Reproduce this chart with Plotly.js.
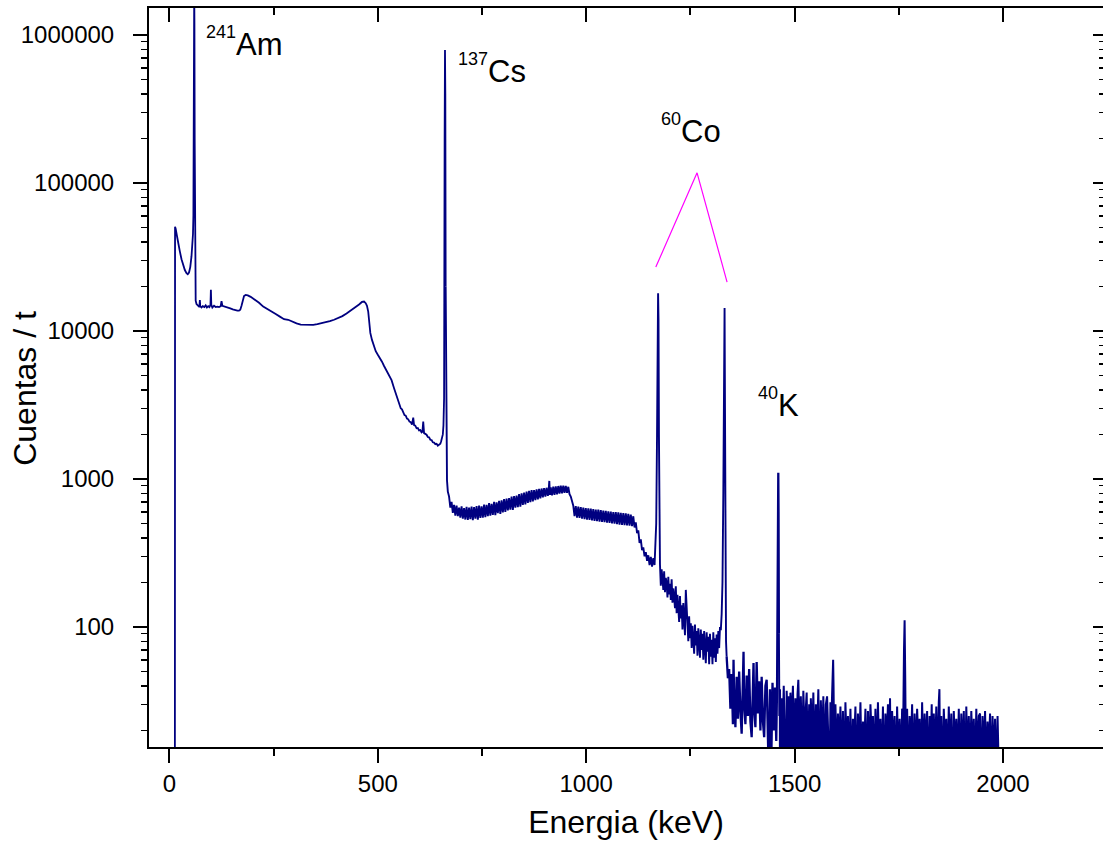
<!DOCTYPE html>
<html>
<head>
<meta charset="utf-8">
<script src="https://cdn.plot.ly/plotly-3.0.1.min.js"></script>
<style>
html,body{margin:0;padding:0;background:#fff;overflow:hidden;}
#chart{width:1103px;height:844px;}
</style>
</head>
<body>
<div id="chart"></div>
<script>
// ---- Spectrum data (energy in keV, counts) ----
const lowE = [13,13.5,15,18,21,25,29,33,37,41,44,47,50,53,55,56.5,57.5,58.3,59,59.5,60,60.6,61.2,62,63,65,68,71,72,73,74,77,80,84,87,90,93,96,98.5,99.5,100.5,103,107,111,115,119,123,125,127,131,135,140,146,152,158,163,167,170,173,176,179,183,188,195,205,215,225,235,245,255,265,275,285,295,305,315,325,335,345,355,365,375,385,395,405,415,425,435,445,455,462,467,471,474,477];
const lowC = [1,50500,49000,44000,39000,34500,30500,27500,25800,24600,24200,24800,27000,32000,38000,45000,60000,150000,900000,2000000,1200000,200000,40000,19000,16000,15200,14800,14600,14600,16200,14700,14400,14700,14500,14900,14400,14700,14500,15000,19000,15000,14400,14800,14500,14600,14500,14700,15900,14800,14700,14600,14400,14200,14000,13800,13700,13700,13900,14800,16300,17200,17500,17400,17000,16300,15500,14600,14100,13600,13000,12500,12000,11900,11500,11250,11050,11000,10950,11000,11100,11250,11450,11650,11900,12200,12600,13100,13700,14400,15100,15700,15800,15400,14800,13500];

const compE = [479,482,486,490,495,500,505,510,515,521,527,533,539,545,550,555,558,561,564,567,570,573,576,579,582,585,587,590,593,596,599,602,605,607,609,611,614,617,620,623,626,629,632,635,638,641,644,647,650,652,654,656,657.5,659,660.3,661.2,662,662.8];
const compC = [11500,9700,8700,8000,7300,6900,6600,6200,5800,5400,5000,4650,4100,3600,3250,3000,2950,2780,2700,2680,2560,2530,2440,2420,2330,2600,2310,2290,2200,2210,2130,2140,2060,2080,2440,2040,2010,1990,1920,1910,1840,1830,1770,1760,1720,1730,1680,1700,1730,1800,1880,2000,2300,3500,200000,790000,400000,20000];

const midE = [664,666,668,671,674,677,680,683,686,689,692,695,698,701,704,707,710,713,716,719,722,725,728,731,734,737,740,743,746,749,752,755,758,761,764,767,770,773,776,779,782,785,788,791,794,797,800,803,806,809,812,815,818,821,824,827,830,833,836,839,842,845,848,851,854,857,860,863,866,869,872,875,878,881,884,887,890,893,896,899,902,905,908,910,911.5,913,915,918,921,924,927,930,933,936,939,942,945,948,951,954,957,960,963,966,969,972,975,978,981,984,987,990,993,996,999,1002,1005,1008,1011,1014,1017,1020,1023,1026,1029,1032,1035,1038,1041,1044,1047,1050,1053,1056,1059,1062,1065,1068,1071,1074,1077,1080,1083,1086,1089,1092,1095,1098,1101,1104,1107,1110,1113,1116,1119,1122,1125,1128,1131,1134,1137,1140,1143,1146,1149,1152,1155,1158,1161,1164,1166,1168,1170,1171.5,1172.5,1173.5,1174.5,1175.5];
const midC = [1600,980,820,760,640,700,590,668,566,660,560,640,548,652,540,636,532,648,528,640,536,650,526,646,540,655,530,660,545,652,548,672,552,668,560,686,565,680,572,700,570,695,588,712,580,718,595,730,600,738,612,742,620,760,618,765,640,772,645,790,650,800,668,808,672,822,690,830,698,840,705,842,720,852,728,858,740,862,752,866,760,872,770,840,970,780,876,775,888,782,890,788,896,795,900,800,902,805,898,806,885,790,760,690,660,560,655,548,650,545,646,540,640,535,636,530,632,528,630,525,626,520,622,518,620,515,616,512,612,510,610,506,605,504,602,500,598,498,596,495,594,492,590,490,588,488,585,486,582,484,575,480,560,470,510,430,450,370,390,330,345,300,320,280,305,262,298,256,292,262,330,500,2000,9000,18000,12000,2000,400];

const coE = [1177,1179,1181,1183,1185,1187,1189,1191,1193,1195,1197,1199,1201,1203,1205,1207,1209,1211,1213,1215,1217,1219,1221,1223,1225,1227,1229,1231,1233,1235,1237,1239,1241,1243,1245,1247,1249,1251,1253,1255,1257,1259,1261,1263,1265,1267,1269,1271,1273,1275,1277,1279,1281,1283,1285,1287,1289,1291,1293,1295,1297,1299,1301,1303,1305,1307,1309,1311,1313,1315,1317,1319,1321,1323,1325,1327,1329,1330,1331,1332,1333,1334,1335.5,1337];
const coC = [265,190,245,212,178,238,172,215,196,158,218,166,196,152,210,146,182,160,134,188,124,165,142,108,162,114,140,96,145,104,88,178,122,90,80,118,84,106,72,102,82,66,104,75,94,64,98,78,62,96,70,90,60,94,72,57,92,68,86,56,90,63,82,56,92,62,84,58,89,66,94,72,100,95,122,200,800,1500,8000,14300,3000,200,80,63];

const tail1E = [1340,1343,1346,1349,1352,1353.5,1355,1358,1361,1364,1367,1370,1373,1376,1377.5,1379,1382,1385,1388,1391,1394,1397,1400,1401.5,1403,1406,1409,1412,1415,1418,1421,1424,1427,1430,1433,1436,1438,1441,1444,1447,1450,1453,1456,1458];
const tail1C = [45,52,28,48,22,60,33,21,46,24,50,27,19,44,68,30,22,47,25,52,23,18,45,57,28,21,58,26,43,20,46,23,18,40,44,21,10,38,12,42,20,39,17,40];

const kE = [1459.5,1460.3,1460.9,1461.5,1462.3];
const kC = [300,900,1100,600,90];

const tail2E = [1463.5,1465,1467,1469,1471,1474,1477,1479,1481,1484,1486,1488,1490,1493,1496,1499,1502,1505,1507,1509,1512,1515,1518,1521,1524,1527,1529,1532,1535,1537,1539,1542,1545,1548,1551,1554,1557,1560,1563,1566,1569,1572,1575,1578,1581,1584,1586,1588,1590,1591.5,1592.5,1593.5,1594.5,1596];
const tail2C = [25,38,9,33,18,40,21,8,37,19,34,12,36,22,40,15,33,9,35,44,18,34,13,37,20,31,36,11,30,8,33,17,36,12,30,19,38,10,32,16,34,11,30,34,14,9,31,22,35,50,60,40,10,8];

const tail3E = [1598,1601,1604,1607,1610,1613,1616,1619,1622,1625,1628,1631,1634,1637,1640,1643,1646,1649,1652,1655,1658,1661,1664,1667,1670,1673,1676,1679,1682,1685,1688,1691,1694,1697,1700,1703,1706,1709,1712,1715,1718,1721,1724,1727,1729,1731,1734,1737,1740,1743,1746,1749,1752,1755,1758,1761,1762.5,1764,1765.5,1767,1770,1773,1776,1779,1782,1785,1788,1791,1794,1797,1800,1803,1806,1809,1812,1815,1818,1821,1824,1827,1829,1831,1834,1837,1840,1843,1846,1847.5,1849,1852,1855,1858,1861,1864,1867,1870,1873,1876,1879,1882,1885,1888,1891,1894,1897,1900,1903,1906,1909,1912,1915,1918,1921,1924,1927,1930,1933,1936,1939,1942,1945,1948,1951,1954,1957,1960,1963,1966,1969,1972,1975,1978,1981,1984,1987,1989,1990];
const tail3C = [30,13,26,16,29,11,27,9,31,15,25,12,28,10,24,17,29,8,26,14,31,11,23,15,28,9,27,13,30,18,25,10,28,12,31,14,24,11,29,8,26,16,30,12,33,10,27,15,25,9,29,13,24,11,28,27,70,111,45,14,28,10,25,15,30,9,26,13,28,17,24,11,31,12,26,14,27,9,25,16,30,10,26,13,29,11,31,38,14,25,9,28,16,24,11,29,13,26,8,27,15,24,12,28,10,26,14,27,9,29,13,25,11,27,15,24,10,28,13,25,26,9,25,14,27,11,23,15,26,10,25,13,24,9,25,14,1];

// ---- 60Co guide lines (magenta) ----
const coLineE = [1167, 1266, 1338];
const coLineC = [27000, 117000, 21400];

// axis ranges
const xRange = [-49, 2240];
const yRangeLog = [1.189, 6.182];

// smooth part (up to the 137Cs peak), noisy middle part, and high-energy tail
const smoothE = lowE.concat(compE);
const smoothC = lowC.concat(compC);
const noisyE = [compE[compE.length - 1]].concat(midE, coE);
const noisyC = [compC[compC.length - 1]].concat(midC, coC);
const tailAE = [coE[coE.length - 1]].concat(tail1E, kE);
const tailAC = [coC[coC.length - 1]].concat(tail1C, kC);
const tailBE = [kE[kE.length - 1]].concat(tail2E, tail3E);
const tailBC = [kC[kC.length - 1]].concat(tail2C, tail3C);

const font = 'Arial, "Liberation Sans", sans-serif';
const navy = '#000080';

const traces = [
  {x: smoothE, y: smoothC, type: 'scatter', mode: 'lines',
   line: {color: navy, width: 1.8}, showlegend: false},
  {x: noisyE, y: noisyC, type: 'scatter', mode: 'lines',
   line: {color: navy, width: 1.9}, showlegend: false},
  {x: tailAE, y: tailAC, type: 'scatter', mode: 'lines',
   line: {color: navy, width: 2.3}, showlegend: false},
  {x: tailBE, y: tailBC, type: 'scatter', mode: 'lines', fill: 'tozeroy', fillcolor: navy,
   line: {color: navy, width: 2.0}, showlegend: false},
  {x: coLineE, y: coLineC, type: 'scatter', mode: 'lines',
   line: {color: '#FF00FF', width: 1.2}, showlegend: false},
  {x: [], y: [], xaxis: 'x2', yaxis: 'y2', type: 'scatter', mode: 'lines', showlegend: false}
];

const supStyle = 'font-size:18px;baseline-shift:4px';
const sup = (s) => '<sup><span style="' + supStyle + '">' + s + '</span></sup>';
const annFont = {family: font, size: 31, color: '#000'};

const layout = {
  width: 1103, height: 844,
  margin: {l: 149, r: 0, t: 8, b: 97},
  paper_bgcolor: '#fff', plot_bgcolor: '#fff',
  font: {family: font, color: '#000', size: 24},
  showlegend: false,
  xaxis: {
    range: xRange, tick0: 0, dtick: 500, ticks: 'outside', ticklen: 14, tickwidth: 2, tickcolor: '#000',
    showline: true, linewidth: 2, linecolor: '#000', showgrid: false, zeroline: false,
    minor: {dtick: 250, tick0: 0, ticks: 'outside', ticklen: 7, tickwidth: 2, tickcolor: '#000', showgrid: false},
    tickfont: {family: font, size: 24, color: '#000'},
    title: {text: 'Energia (keV)', font: {family: font, size: 32, color: '#000'}, standoff: 15}
  },
  xaxis2: {
    overlaying: 'x', side: 'top', range: xRange, tick0: 0, dtick: 500, ticks: 'inside', ticklen: 14, tickwidth: 2,
    tickcolor: '#000', showline: true, linewidth: 2, linecolor: '#000', showgrid: false, zeroline: false,
    showticklabels: false,
    minor: {dtick: 250, tick0: 0, ticks: 'inside', ticklen: 7, tickwidth: 2, tickcolor: '#000', showgrid: false}
  },
  yaxis: {
    type: 'log', range: yRangeLog, dtick: 1, tickformat: 'd', ticks: 'outside', ticklen: 14, tickwidth: 2,
    tickcolor: '#000', showline: true, linewidth: 2, linecolor: '#000', showgrid: false, zeroline: false,
    ticklabelstandoff: 14,
    minor: {ticks: 'outside', ticklen: 6, tickwidth: 1.5, tickcolor: '#000', showgrid: false},
    tickfont: {family: font, size: 24, color: '#000'}
  },
  yaxis2: {
    overlaying: 'y', side: 'right', type: 'log', range: yRangeLog, dtick: 1, ticks: 'inside', ticklen: 10,
    tickwidth: 2, tickcolor: '#000', showline: false, showgrid: false, zeroline: false, showticklabels: false,
    minor: {ticks: 'inside', ticklen: 4, tickwidth: 1.5, tickcolor: '#000', showgrid: false}
  },
  annotations: [
    {text: sup('241') + 'Am', x: 82.8, y: 5.804, xref: 'x', yref: 'y',
     xanchor: 'left', yanchor: 'bottom', showarrow: false, font: annFont},
    {text: sup('137') + 'Cs', x: 686.8, y: 5.6215, xref: 'x', yref: 'y',
     xanchor: 'left', yanchor: 'bottom', showarrow: false, font: annFont},
    {text: sup('60') + 'Co', x: 1174.6, y: 5.213, xref: 'x', yref: 'y',
     xanchor: 'left', yanchor: 'bottom', showarrow: false, font: annFont},
    {text: sup('40') + 'K', x: 1407, y: 3.365, xref: 'x', yref: 'y',
     xanchor: 'left', yanchor: 'bottom', showarrow: false, font: annFont},
    {text: 'Cuentas / t', x: -0.13, y: 0.486, xref: 'paper', yref: 'paper', xanchor: 'center', yanchor: 'middle',
     textangle: -90, showarrow: false, font: {family: font, size: 32, color: '#000'}}
  ]
};

Plotly.newPlot('chart', traces, layout, {displayModeBar: false, staticPlot: true});
</script>
</body>
</html>
